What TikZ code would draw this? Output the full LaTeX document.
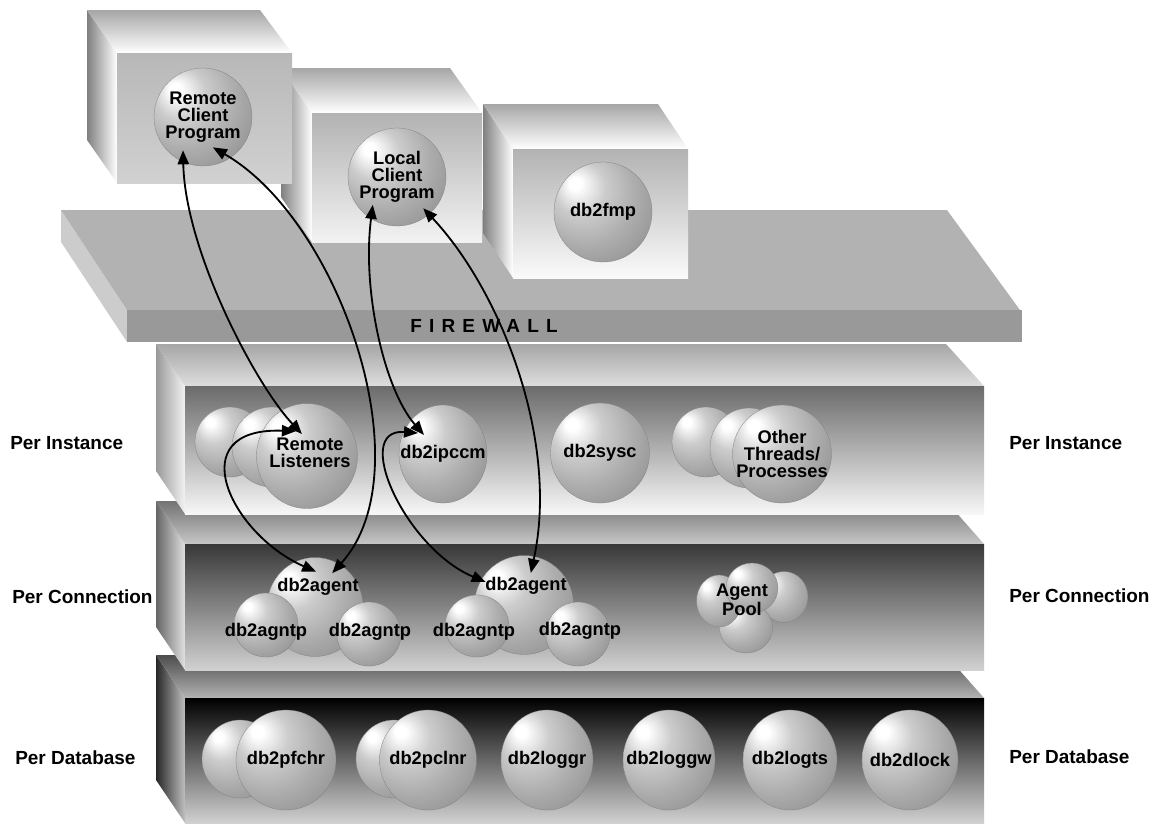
\documentclass[tikz,border=0pt]{standalone}
\usepackage{fontspec}
\setmainfont{Liberation Sans}
\newfontfamily\spaced[LetterSpace=38]{Liberation Sans}
\usetikzlibrary{shapes.geometric, arrows.meta, calc}

\pgfdeclareradialshading{sphere}{\pgfpoint{-15bp}{15bp}}{color(0bp)=(white); color(3bp)=(white); color(13bp)=(black!20); color(25bp)=(black!32); color(37bp)=(black!42); color(45bp)=(black!53); color(50bp)=(black!60); color(60bp)=(black!64)}

\begin{document}
\begin{tikzpicture}[x=0.025cm, y=-0.025cm,
    orb/.style 2 args={ellipse, minimum width=#1*0.025cm, minimum height=#2*0.025cm, inner sep=0pt, shade, shading=sphere, draw=black!50, line width=0.2pt},
    proc/.style={align=center, inner sep=0pt, font=\bfseries\fontsize{13}{12}\selectfont},
    tier/.style={anchor=west, inner sep=0pt, font=\bfseries\fontsize{13.5}{14}\selectfont},
    link/.style={line width=1.3pt, {Triangle[length=10pt,width=8pt]}-{Triangle[length=10pt,width=8pt]}}
]
    \useasboundingbox (0,0) rectangle (1152,824);

    % Per Database layer
    \shade [left color=black!85, right color=black!25] (156,655) -- (185,698) -- (185,823) -- (156,780) -- cycle;
    \shade [top color=black!70, bottom color=black!30] (156,655) -- (946,655) -- (984,698) -- (185,698) -- cycle;
    \shade [top color=black, bottom color=black!18] (185,698) rectangle (984,823);

    % Per Connection layer
    \shade [left color=black!60, right color=black!12] (156,501) -- (185,544) -- (185,670) -- (156,627) -- cycle;
    \shade [top color=black!55, bottom color=black!22] (156,501) -- (946,501) -- (984,544) -- (185,544) -- cycle;
    \shade [top color=black!78, bottom color=black!18] (185,544) rectangle (984,670);

    % Per Instance layer
    \shade [left color=black!40, right color=black!5] (156,344) -- (185,386) -- (185,514) -- (156,471) -- cycle;
    \shade [top color=black!35, bottom color=black!13] (156,344) -- (946,344) -- (984,386) -- (185,386) -- cycle;
    \shade [top color=black!58, bottom color=black!3] (185,386) rectangle (984,514);

    % Firewall
    \fill [black!20] (61,210) -- (127,310) -- (127,342) -- (61,242) -- cycle;
    \fill [black!30] (61,210) -- (947,210) -- (1020,310) -- (127,310) -- cycle;
    \fill [black!40] (127,310) rectangle (1022,342);
    \node (fw) [anchor=west, inner sep=0pt, font=\spaced\bfseries\fontsize{13.5}{13.5}\selectfont] at (410,326) {FIREWALL};

    % Client boxes
    \shade [left color=black!50, right color=white] (513,149) -- (483,104) -- (483,233) -- (513,278) -- cycle;
    \shade [top color=black!35, bottom color=white] (513,149) -- (483,104) -- (658,104) -- (688,149) -- cycle;
    \shade [top color=black!30, bottom color=black!2] (513,149) rectangle (688,278);

    \shade [left color=black!50, right color=white] (312,113) -- (281,68) -- (281,197) -- (312,242) -- cycle;
    \shade [top color=black!35, bottom color=white] (312,113) -- (281,68) -- (450,68) -- (482,113) -- cycle;
    \shade [top color=black!30, bottom color=black!5] (312,113) rectangle (482,242);

    \shade [left color=black!50, right color=white] (117,53) -- (87,10) -- (87,140) -- (117,183) -- cycle;
    \shade [top color=black!35, bottom color=white] (117,53) -- (87,10) -- (260,10) -- (292,53) -- cycle;
    \shade [top color=black!28, bottom color=black!18] (117,53) rectangle (292,183);

    % Client processes
    \node (rcp) [orb={98}{98}, label={[proc]center:{Remote\\Client\\Program}}] at (203,117) {};
    \node (lcp) [orb={98}{98}, label={[proc]center:{Local\\Client\\Program}}] at (397,177) {};
    \node (fmp) [orb={98}{100}, label={[proc]center:db2fmp}] at (603,212) {};

    % Per Instance processes
    \node (rlb) [orb={70}{70}] at (230,442) {};
    \node (rlm) [orb={80}{80}] at (272,447) {};
    \node (rl) [orb={101}{105}] at (307,456) {};
    \node (rlt) [proc] at (310,453) {Remote\\Listeners};
    \node (ipc) [orb={88}{98}, label={[proc]center:db2ipccm}] at (443,454) {};
    \node (sysc) [orb={99}{100}, label={[proc]center:db2sysc}] at (600,453) {};
    \node (othb) [orb={68}{70}] at (706,442) {};
    \node (othm) [orb={78}{80}] at (749,448) {};
    \node (oth) [orb={99}{98}, label={[proc]center:{Other\\Threads/\\Processes}}] at (782,454) {};

    % Per Connection processes
    \node (ag1) [orb={96}{99}] at (315,607) {};
    \node (ap1) [orb={64}{64}] at (266,625) {};
    \node (ap2) [orb={64}{64}] at (369,634) {};
    \node (ag2) [orb={99}{99}] at (524,605) {};
    \node (ap3) [orb={64}{62}] at (477,626) {};
    \node (ap4) [orb={64}{64}] at (578,634) {};
    \node (ag1t) [proc] at (318,587) {db2agent};
    \node (ap1t) [proc] at (266,632) {db2agntp};
    \node (ap2t) [proc] at (370,632) {db2agntp};
    \node (ag2t) [proc] at (526,586) {db2agent};
    \node (ap3t) [proc] at (474,632) {db2agntp};
    \node (ap4t) [proc] at (580,631) {db2agntp};

    \node (plr) [orb={48}{51}] at (784,597) {};
    \node (plb) [orb={53}{50}] at (746,628) {};
    \node (pll) [orb={45}{52}] at (719,601) {};
    \node (plt) [orb={52}{50}] at (752,588) {};
    \node (poolt) [proc, font=\bfseries\fontsize{13}{11}\selectfont] at (742,600) {Agent\\Pool};

    % Per Database processes
    \node (pfb) [orb={76}{78}] at (240,759) {};
    \node (pf) [orb={100}{100}, label={[proc]center:db2pfchr}] at (286,760) {};
    \node (pcb) [orb={76}{78}] at (394,759) {};
    \node (pc) [orb={97}{100}, label={[proc]center:db2pclnr}] at (428,760) {};
    \node (lgr) [orb={92}{100}, label={[proc]center:db2loggr}] at (547,760) {};
    \node (lgw) [orb={92}{100}, label={[proc]center:db2loggw}] at (669,760) {};
    \node (lgt) [orb={94}{100}, label={[proc]center:db2logts}] at (790,760) {};
    \node (dlk) [orb={96}{100}, label={[proc]center:db2dlock}] at (910,760) {};

    % Layer labels
    \node (lpi) [tier] at (10,443) {Per Instance};
    \node (rpi) [tier] at (1009,443) {Per Instance};
    \node (lpc) [tier] at (12,597) {Per Connection};
    \node (rpc) [tier] at (1009,596) {Per Connection};
    \node (lpd) [tier] at (15,758) {Per Database};
    \node (rpd) [tier] at (1009,757) {Per Database};

    % Connections
    \draw [link] ($(rcp.center)!0.79!(rcp.239)$) .. controls +(2,100) and +(-47,-50) .. ($(rl.center)!0.43!(rl.103)$);
    \draw [link] ($(rcp.center)!0.65!(rcp.288)$) .. controls +(127,73) and +(93,-103) .. ($(ag1.center)!0.77!(ag1.63)$);
    \draw [link] ($(rl.center)!0.52!(rl.114)$) .. controls +(-116,-4) and +(-86,-38) .. ($(ag1.center)!0.71!(ag1.88)$);
    \draw [link] ($(lcp.center)!0.75!(lcp.229)$) .. controls +(-11,85) and +(-40,-46) .. ($(ipc.center)!0.58!(ipc.135)$);
    \draw [link] ($(ipc.center)!0.71!(ipc.140)$) .. controls +(-67,-5) and +(-81,-34) .. ($(ag2.center)!0.9!(ag2.149)$);
    \draw [link] ($(lcp.center)!0.83!(lcp.310)$) .. controls +(77,82) and +(29,-133) .. ($(ag2.center)!0.66!(ag2.78)$);
\end{tikzpicture}
\end{document}
